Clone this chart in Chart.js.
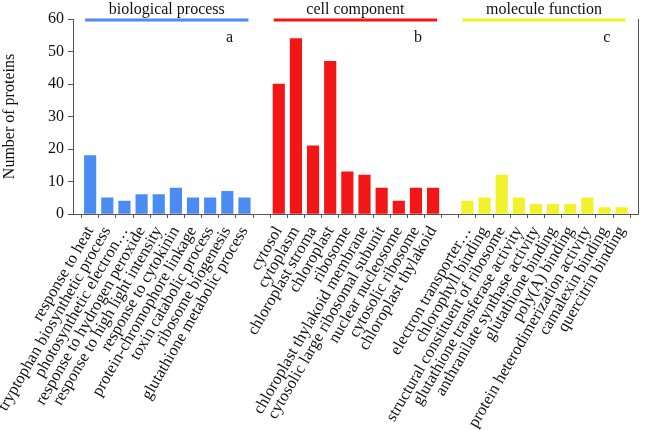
<!DOCTYPE html>
<html>
<head>
<meta charset="utf-8">
<script src="https://cdn.jsdelivr.net/npm/chart.js@4.4.1/dist/chart.umd.min.js"></script>
<style>
  body { margin: 0; background: #fff; }
</style>
</head>
<body>
<canvas id="go-chart" width="661" height="430"></canvas>
<script>
// GO categories and protein counts
const bioLabels = ["response to heat", "tryptophan biosynthetic process", "photosynthetic electron…",
  "response to hydrogen peroxide", "response to high light intensity", "response to cytokinin",
  "protein-chromophore linkage", "toxin catabolic process", "ribosome biogenesis",
  "glutathione metabolic process"];
const bioValues = [18, 5, 4, 6, 6, 8, 5, 5, 7, 5];

const cellLabels = ["cytosol", "cytoplasm", "chloroplast stroma", "chloroplast", "ribosome",
  "chloroplast thylakoid membrane", "cytosolic large ribosomal subunit", "nuclear nucleosome",
  "cytosolic ribosome", "chloroplast thylakoid"];
const cellValues = [40, 54, 21, 47, 13, 12, 8, 4, 8, 8];

const molLabels = ["electron transporter…", "chlorophyll binding", "structural constituent of ribosome",
  "glutathione transferase activity", "anthranilate synthase activity", "glutathione binding",
  "poly(A) binding", "protein heterodimerization activity", "camalexin binding", "quercitrin binding"];
const molValues = [4, 5, 12, 5, 3, 3, 3, 5, 2, 2];

const groupNames = ["biological process", "cell component", "molecule function"];
const groupTags = ["a", "b", "c"];
const groupColors = ["#4a8cf2", "#f31616", "#f2f22c"];

const yMin = 0, yMax = 60, yStep = 10;

const serif = "'Liberation Serif', 'Times New Roman', serif";

// one empty slot at both ends and between the groups
const allLabels = [""].concat(bioLabels, [""], cellLabels, [""], molLabels, [""]);
const starts = [1, bioLabels.length + 2, bioLabels.length + cellLabels.length + 3];
const groupValues = [bioValues, cellValues, molValues];

const datasets = groupValues.map((vals, g) => {
  const data = allLabels.map(() => null);
  vals.forEach((v, i) => { data[starts[g] + i] = v; });
  return {
    label: groupNames[g],
    data: data,
    backgroundColor: groupColors[g],
    borderWidth: 0,
    barThickness: 11.5,
    grouped: false
  };
});

const groupHeaders = {
  id: "groupHeaders",
  afterDraw(chart) {
    const ctx = chart.ctx;
    const xs = chart.scales.x;
    const top = chart.chartArea.top;
    ctx.save();
    groupNames.forEach((name, g) => {
      const first = starts[g];
      const last = starts[g] + groupValues[g].length - 1;
      const x0 = xs.getPixelForValue(first) - 5;
      const x1 = xs.getPixelForValue(last) + 4;
      ctx.strokeStyle = groupColors[g];
      ctx.lineWidth = 3;
      ctx.beginPath();
      ctx.moveTo(x0, top + 1);
      ctx.lineTo(x1, top + 1);
      ctx.stroke();

      ctx.fillStyle = "#111";
      ctx.font = "16px " + serif;
      ctx.textAlign = "center";
      ctx.textBaseline = "middle";
      ctx.fillText(name, (x0 + x1) / 2, top - 9);
      ctx.fillText(groupTags[g], xs.getPixelForValue(last) - 15, top + 19);
    });
    ctx.restore();
  }
};

new Chart(document.getElementById("go-chart"), {
  type: "bar",
  data: { labels: allLabels, datasets: datasets },
  options: {
    responsive: false,
    animation: false,
    layout: { padding: { top: 19, right: 6, left: 0, bottom: 0 } },
    plugins: {
      legend: { display: false },
      tooltip: { enabled: false }
    },
    scales: {
      x: {
        offset: false,
        grid: { display: true, drawOnChartArea: false, drawTicks: true, tickLength: 4, color: "#555" },
        border: { display: true, color: "#555", width: 1 },
        ticks: {
          autoSkip: false,
          maxRotation: 60,
          minRotation: 60,
          padding: 5,
          color: "#111",
          font: { family: serif, size: 16.5 }
        },
        afterFit(scale) { scale.height = 216; }
      },
      y: {
        min: yMin,
        max: yMax,
        grid: { display: true, drawOnChartArea: false, drawTicks: true, tickLength: 5, color: "#555" },
        border: { display: true, color: "#555", width: 1 },
        ticks: { stepSize: yStep, padding: 4, color: "#111", font: { family: serif, size: 16 } },
        title: { display: true, text: "Number of proteins", color: "#111", font: { family: serif, size: 16 }, padding: 0 },
        afterFit(scale) { scale.width = 73; }
      },
      y2: {
        position: "right",
        min: yMin,
        max: yMax,
        grid: { display: false },
        border: { display: true, color: "#555", width: 1 },
        ticks: { display: false },
        afterFit(scale) { scale.width = 0; }
      }
    }
  },
  plugins: [groupHeaders]
});
</script>
</body>
</html>
